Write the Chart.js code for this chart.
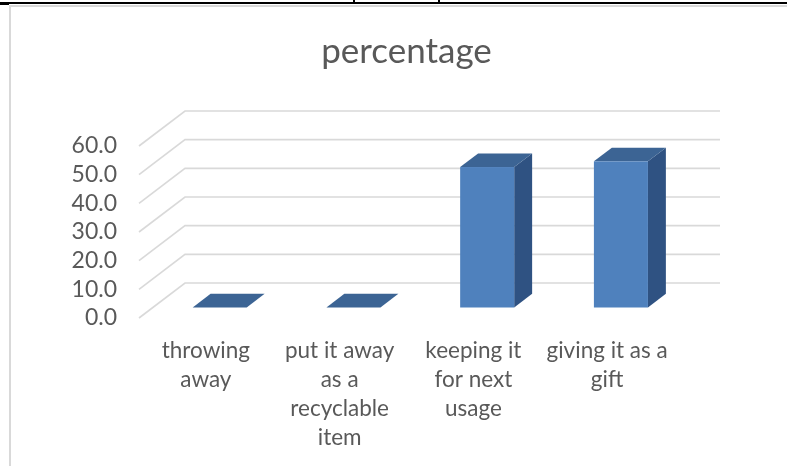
<!DOCTYPE html>
<html>
<head>
<meta charset="utf-8">
<script src="https://cdn.jsdelivr.net/npm/chart.js@4.4.1/dist/chart.umd.min.js"></script>
<style>
  html, body { margin: 0; padding: 0; background: #fff; }
  #wrap { width: 787px; height: 466px; position: relative; }
</style>
</head>
<body>
<div id="wrap"><canvas id="pctChart" width="787" height="466"></canvas></div>
<script>
// categories and values
const categories = [
    ["throwing", "away"],
    ["put it away", "as a", "recyclable", "item"],
    ["keeping it", "for next", "usage"],
    ["giving it as a", "gift"]
];
const percentages = [0.0, 0.0, 49.0, 51.0];
const yTicks = [0, 10, 20, 30, 40, 50, 60];

const textColor = "#595959";
const gridColor = "#d9d9d9";
const frontColor = "#4f81bd";
const topColor = "#3c6494";
const sideColor = "#2f5282";

// oblique offset of the back wall
const DEPTH_X = 46;
const DEPTH_Y = 35;
// bars sit between these fractions of the depth
const BAR_FRONT = 0.30;
const BAR_BACK = 0.69;

// page frame: table rule on top and the chart border
const framePlugin = {
    id: "frame",
    beforeDraw(chart) {
        let ctx = chart.ctx;
        ctx.save();
        ctx.fillStyle = "#fff";
        ctx.fillRect(0, 0, chart.width, chart.height);
        ctx.fillStyle = "#000";
        ctx.fillRect(0, 2, chart.width, 2);
        ctx.fillRect(0, 3, 9, 2);
        ctx.fillRect(353, 0, 2, 3);
        ctx.fillRect(438, 0, 2, 3);
        ctx.fillStyle = gridColor;
        ctx.fillRect(9, 5, chart.width - 9, 2);
        ctx.fillRect(9, 5, 2, chart.height - 5);
        ctx.restore();
    }
};

// side wall and back wall gridlines
const wallPlugin = {
    id: "walls",
    beforeDatasetsDraw(chart) {
        let ctx = chart.ctx;
        let area = chart.chartArea;
        let yScale = chart.scales.y;
        ctx.save();
        ctx.strokeStyle = gridColor;
        ctx.lineWidth = 1.6;
        yTicks.forEach(v => {
            let y = yScale.getPixelForValue(v);
            ctx.beginPath();
            ctx.moveTo(area.left, y);
            ctx.lineTo(area.left + DEPTH_X, y - DEPTH_Y);
            ctx.lineTo(area.right + DEPTH_X, y - DEPTH_Y);
            ctx.stroke();
        });
        ctx.restore();
    }
};

// 3d columns built from the bar elements
const columnPlugin = {
    id: "columns",
    afterDatasetsDraw(chart) {
        let ctx = chart.ctx;
        let meta = chart.getDatasetMeta(0);
        let fx = DEPTH_X * BAR_FRONT, fy = DEPTH_Y * BAR_FRONT;
        let dx = DEPTH_X * (BAR_BACK - BAR_FRONT), dy = DEPTH_Y * (BAR_BACK - BAR_FRONT);
        ctx.save();
        meta.data.forEach(bar => {
            let left = bar.x - bar.width / 2 + fx;
            let right = bar.x + bar.width / 2 + fx;
            let top = bar.y - fy;
            let bottom = bar.base - fy;

            // side face
            if (bottom - top > 0.5) {
                ctx.fillStyle = sideColor;
                ctx.beginPath();
                ctx.moveTo(right, top);
                ctx.lineTo(right + dx, top - dy);
                ctx.lineTo(right + dx, bottom - dy);
                ctx.lineTo(right, bottom);
                ctx.closePath();
                ctx.fill();
            }

            // top face
            ctx.fillStyle = topColor;
            ctx.beginPath();
            ctx.moveTo(left, top);
            ctx.lineTo(right, top);
            ctx.lineTo(right + dx, top - dy);
            ctx.lineTo(left + dx, top - dy);
            ctx.closePath();
            ctx.fill();

            // front face
            if (bottom - top > 0.5) {
                ctx.fillStyle = frontColor;
                ctx.fillRect(left, top, right - left, bottom - top);
            }
        });
        ctx.restore();
    }
};

function renderChart() {
    let ctx = document.getElementById("pctChart").getContext("2d");

    new Chart(ctx, {
        type: "bar",
        data: {
            labels: categories,
            datasets: [{
                label: "percentage",
                data: percentages,
                backgroundColor: "rgba(0,0,0,0)",
                borderWidth: 0,
                barPercentage: 1.0,
                categoryPercentage: 0.404
            }]
        },
        options: {
            responsive: false,
            animation: false,
            layout: {
                padding: { left: 20, right: 113, top: 31, bottom: 0 }
            },
            plugins: {
                legend: { display: false },
                tooltip: { enabled: false },
                title: {
                    display: true,
                    fullSize: false,
                    text: "percentage",
                    color: textColor,
                    font: { family: "Lato", size: 35, weight: "normal" },
                    padding: { top: 0, bottom: 73 }
                }
            },
            scales: {
                x: {
                    grid: { display: false, drawTicks: false },
                    border: { display: false },
                    ticks: {
                        color: textColor,
                        font: { family: "Lato", size: 22.5, lineHeight: 1.29 },
                        maxRotation: 0,
                        autoSkip: false,
                        padding: 18
                    },
                    afterFit(scale) { scale.height = 148; }
                },
                y: {
                    min: 0,
                    max: 60,
                    grid: { display: false, drawTicks: false },
                    border: { display: false },
                    ticks: {
                        stepSize: 10,
                        autoSkip: false,
                        color: textColor,
                        font: { family: "Lato", size: 23 },
                        padding: 22,
                        callback: v => v.toFixed(1)
                    },
                    afterFit(scale) { scale.width = 119; }
                }
            }
        },
        plugins: [framePlugin, wallPlugin, columnPlugin]
    });
}

renderChart();
</script>
</body>
</html>
